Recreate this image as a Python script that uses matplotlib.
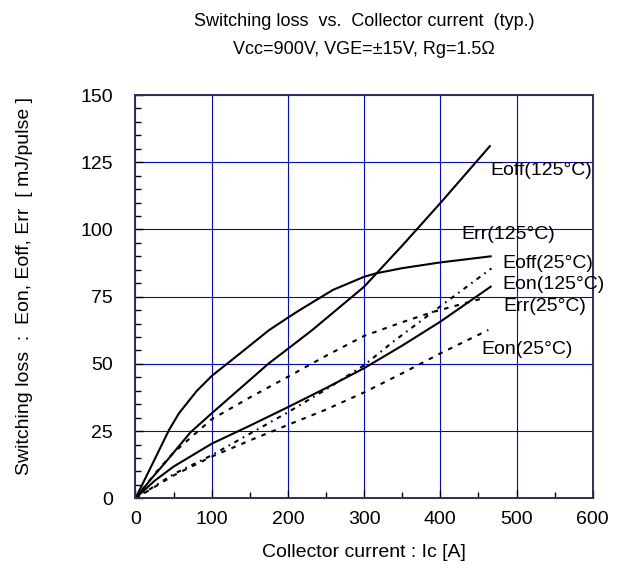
import matplotlib
matplotlib.use("Agg")
import matplotlib.pyplot as plt
from matplotlib.ticker import MultipleLocator

plt.rcParams['font.family'] = ['Liberation Sans', 'DejaVu Sans']

# Data (Ic [A], energy [mJ/pulse])
ic_eoff125 = [0, 20, 40, 72, 100, 150, 175, 200, 232, 300, 350, 400, 465]
e_eoff125 = [0, 7, 13.6, 24.5, 31.6, 44, 50.2, 55.6, 62.6, 78.7, 94, 109.8, 131]

ic_err125 = [0, 20, 44, 57, 80, 100, 132, 175, 200, 216, 259, 300, 316, 350, 399, 466]
e_err125 = [0, 11.5, 25.4, 31.6, 39.8, 45.5, 52.7, 62.5, 67.2, 70.1, 77.5, 82.4, 83.7, 85.6, 87.7, 90.0]

ic_eon125 = [0, 25, 50, 100, 150, 200, 250, 300, 350, 400, 466]
e_eon125 = [0, 6.5, 11.8, 20.3, 27, 33.9, 41, 48.4, 56.8, 65.7, 78.7]

ic_eoff25 = [0, 25, 50, 100, 150, 200, 250, 300, 350, 390, 456]
e_eoff25 = [0, 9, 17, 29.4, 37.5, 45.2, 53, 60.4, 65.5, 69.3, 74.4]

ic_err25 = [0, 25, 50, 100, 150, 200, 250, 300, 337, 390, 467]
e_err25 = [0, 4.5, 9, 16, 24, 32, 40.5, 49.5, 58, 69.3, 85.5]

ic_eon25 = [0, 22, 50, 100, 150, 200, 250, 300, 350, 400, 463]
e_eon25 = [0, 3.7, 8.5, 15.5, 21.5, 27.3, 33, 39.4, 46.5, 53.9, 62.6]

label_texts = ["Eoff(125°C)", "Err(125°C)", "Eoff(25°C)", "Eon(125°C)", "Err(25°C)", "Eon(25°C)"]
label_x = [466, 427, 482, 481, 483, 454]
label_y = [122, 98, 87.4, 79.7, 71.3, 55.2]

xticks = [0, 100, 200, 300, 400, 500, 600]
yticks = [0, 25, 50, 75, 100, 125, 150]

fig = plt.figure(figsize=(6.22, 5.76), dpi=100)
ax = fig.add_axes([0.2178, 0.1349, 0.9530 - 0.2178, 0.835 - 0.1349])

ax.set_xlim(0, 600)
ax.set_ylim(0, 150)
ax.set_xticks(xticks)
ax.set_yticks(yticks)
ax.xaxis.set_minor_locator(MultipleLocator(50))
ax.yaxis.set_minor_locator(MultipleLocator(5))
ax.grid(True, which='major', color='#0000FF', linewidth=0.8)
ax.set_axisbelow(True)

spine_col = '#2E2E5C'
for s in ax.spines.values():
    s.set_color(spine_col)
    s.set_linewidth(1.4)

ax.tick_params(which='both', direction='in', top=False, right=False, color='black')
ax.tick_params(which='major', length=6, width=1.0, labelsize=14)
ax.tick_params(which='minor', length=4, width=1.0)
ax.tick_params(axis='y', which='major', pad=16)
ax.tick_params(axis='x', which='major', pad=9)

lw = 1.5
ax.plot(ic_eoff125, e_eoff125, color='black', lw=lw)
ax.plot(ic_err125, e_err125, color='black', lw=lw)
ax.plot(ic_eon125, e_eon125, color='black', lw=lw)
ax.plot(ic_eoff25, e_eoff25, color='black', lw=lw, linestyle=(0, (2.2, 3.0)))
ax.plot(ic_err25, e_err25, color='black', lw=lw, linestyle=(0, (2.2, 2.4, 0.8, 2.4)))
ax.plot(ic_eon25, e_eon25, color='black', lw=lw, linestyle=(0, (2.2, 3.0)))

for t, x, y in zip(label_texts, label_x, label_y):
    ax.text(x, y, t, fontsize=14, ha='left', va='center', color='black')

ax.set_xlabel("Collector current : Ic [A]", fontsize=14, labelpad=12)
ax.set_ylabel("Switching loss  :  Eon, Eoff, Err  [ mJ/pulse ]", fontsize=14)
ax.yaxis.set_label_coords(-0.224, 0.526)

fig.text(0.5855, 1 - 21 / 576, "Switching loss  vs.  Collector current  (typ.)",
         fontsize=13, ha='center', va='center')
fig.text(0.5855, 1 - 49 / 576, "Vcc=900V, VGE=±15V, Rg=1.5Ω",
         fontsize=13, ha='center', va='center')

fig.savefig("out.png", dpi=100)
